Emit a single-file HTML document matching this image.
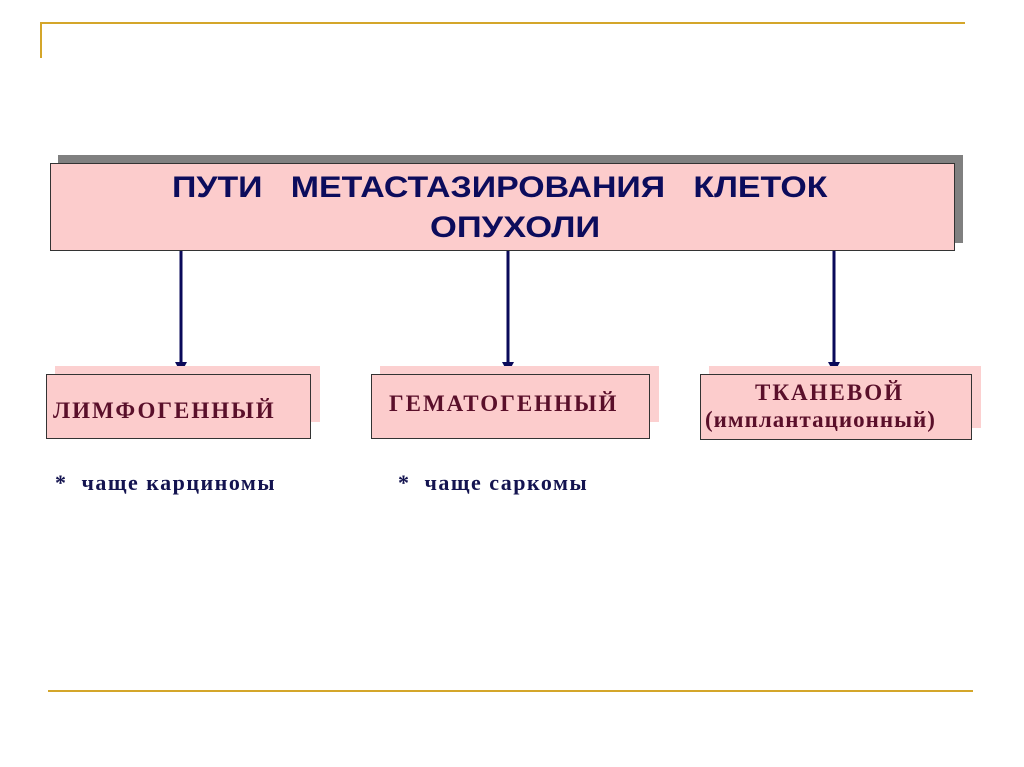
<!DOCTYPE html>
<html><head><meta charset="utf-8"><style>
body{margin:0;width:1024px;height:767px;background:#fff;position:relative;overflow:hidden}
.a{position:absolute}
.sh{background:#fcd0d0}
.bx{background:#fccccc;border:1px solid #333;box-sizing:border-box}
.t{font-family:"Liberation Serif",serif;font-weight:bold;color:#5a0f2a;font-size:23px;letter-spacing:2px;position:absolute;white-space:nowrap}
.n{font-family:"Liberation Serif",serif;font-weight:bold;color:#141450;font-size:22px;letter-spacing:1.5px;position:absolute;white-space:nowrap}
.h{position:absolute;font-family:'Liberation Sans',sans-serif;font-weight:bold;font-size:30px;color:#0c0c5c;line-height:40px;white-space:nowrap;transform-origin:0 0}
</style></head><body>
<div class="a" style="left:40px;top:22px;width:925px;height:2px;background:#d4a62a"></div>
<div class="a" style="left:40px;top:22px;width:2px;height:36px;background:#d4a62a"></div>
<div class="a" style="left:48px;top:690px;width:925px;height:2px;background:#d4a62a"></div>

<div class="a" style="left:58px;top:155px;width:905px;height:88px;background:#808080"></div>
<div class="a bx" style="left:50px;top:163px;width:905px;height:88px"></div>
<div class="h" style="left:172px;top:168px;transform:scaleX(1.13)">ПУТИ&nbsp;&nbsp; МЕТАСТАЗИРОВАНИЯ&nbsp;&nbsp; КЛЕТОК</div>
<div class="h" style="left:430px;top:208px;transform:scaleX(1.15)">ОПУХОЛИ</div>

<svg class="a" style="left:0;top:0" width="1024" height="767">
<g stroke="#0a0a5a" stroke-width="3" fill="#0a0a5a">
<line x1="181" y1="251" x2="181" y2="364"/><polygon points="175,362 187,362 181,373" stroke="none"/>
<line x1="508" y1="251" x2="508" y2="364"/><polygon points="502,362 514,362 508,373" stroke="none"/>
<line x1="834" y1="251" x2="834" y2="364"/><polygon points="828,362 840,362 834,373" stroke="none"/>
</g></svg>

<div class="a sh" style="left:55px;top:366px;width:265px;height:56px"></div>
<div class="a bx" style="left:46px;top:374px;width:265px;height:65px"></div>
<div class="t" style="left:53px;top:398px">ЛИМФОГЕННЫЙ</div>

<div class="a sh" style="left:380px;top:366px;width:279px;height:56px"></div>
<div class="a bx" style="left:371px;top:374px;width:279px;height:65px"></div>
<div class="t" style="left:389px;top:391px">ГЕМАТОГЕННЫЙ</div>

<div class="a sh" style="left:709px;top:366px;width:272px;height:62px"></div>
<div class="a bx" style="left:700px;top:374px;width:272px;height:66px"></div>
<div class="t" style="left:755px;top:380px">ТКАНЕВОЙ</div>
<div class="t" style="left:705px;top:407px;letter-spacing:1px">(имплантационный)</div>

<div class="n" style="left:55px;top:470px">*&nbsp; чаще карциномы</div>
<div class="n" style="left:398px;top:470px">*&nbsp; чаще саркомы</div>
</body></html>
